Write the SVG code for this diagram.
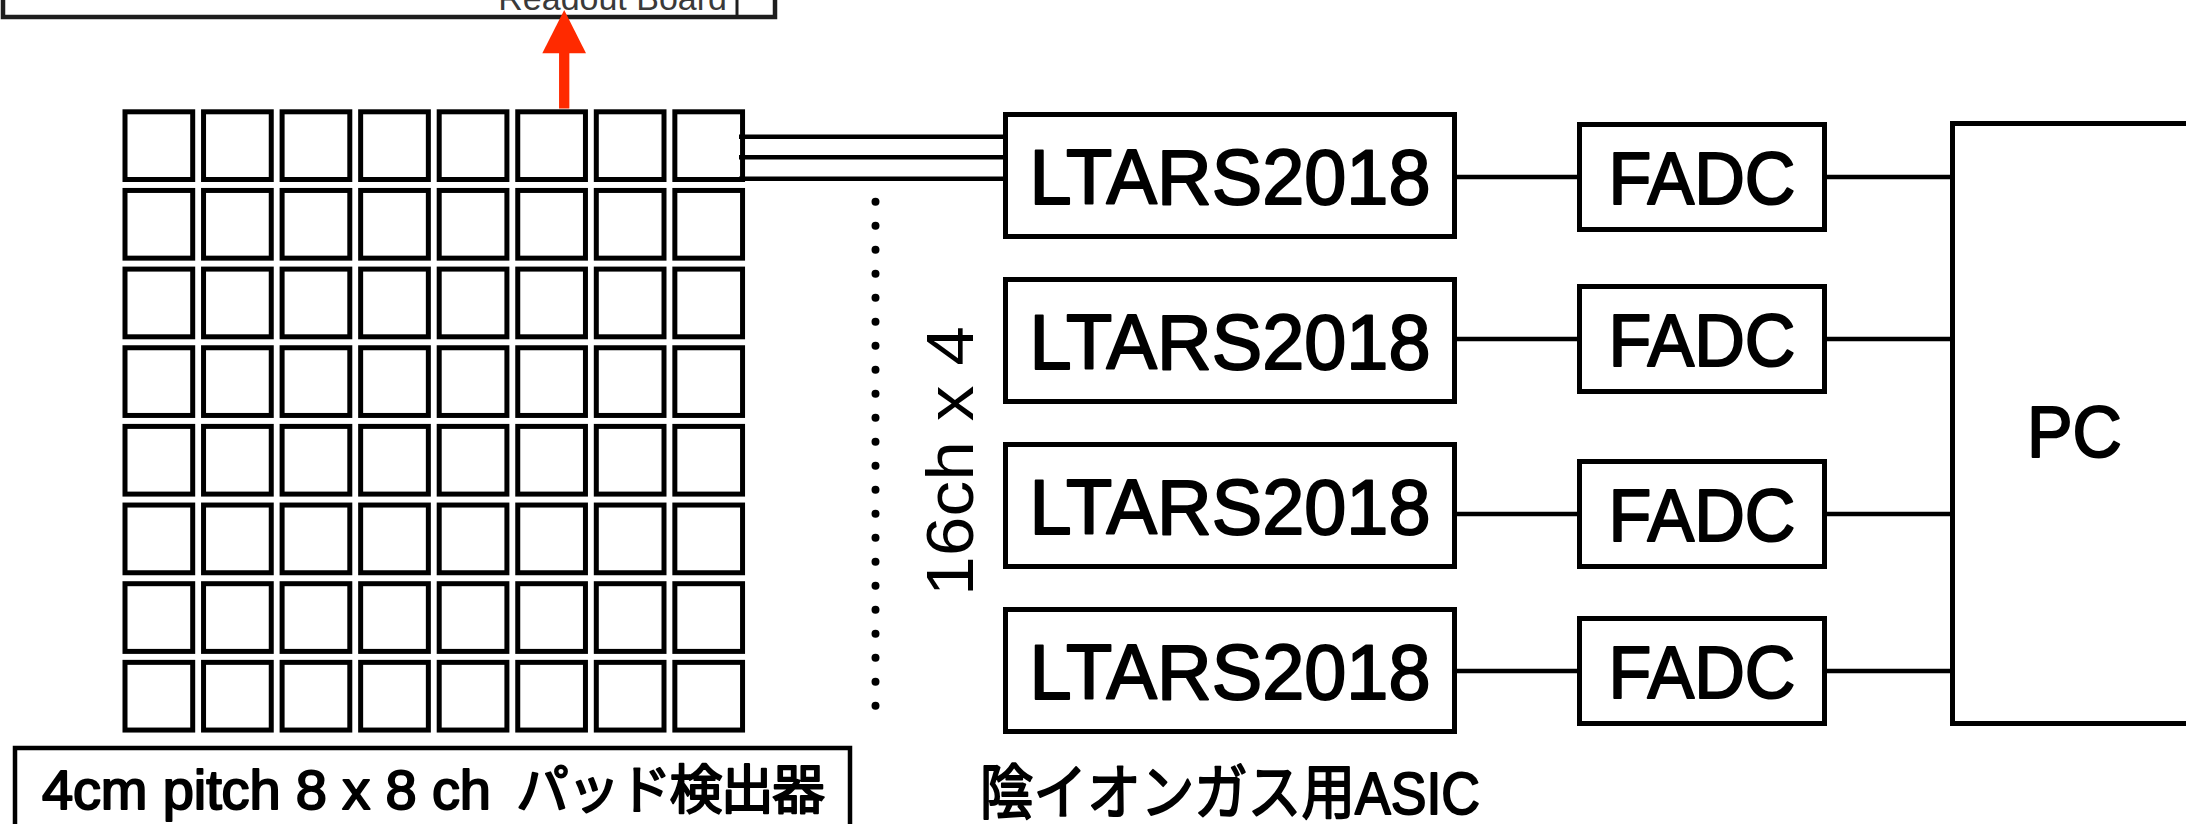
<svg xmlns="http://www.w3.org/2000/svg" xmlns:xlink="http://www.w3.org/1999/xlink" width="2186" height="824" viewBox="0 0 2186 824">
<style>
.box{fill:#fff;stroke:#000;stroke-width:5}
.cell{fill:#fff;stroke:#000;stroke-width:5}
.wire{stroke:#000;stroke-width:4.5;fill:none}
.lbl{font-family:"Liberation Sans","Noto Sans CJK JP",sans-serif;fill:#000;stroke:#000;stroke-width:2;stroke-linejoin:round}
.big{font-size:78px;text-anchor:middle}
.fadc{font-size:74px;text-anchor:middle}
.thin{font-family:"Liberation Sans",sans-serif;font-size:66px;fill:#000}
</style>
<defs>
<g id="padrow">
<rect class="cell" x="125" y="0" width="67.7" height="67.7"/>
<rect class="cell" x="203.55" y="0" width="67.7" height="67.7"/>
<rect class="cell" x="282.1" y="0" width="67.7" height="67.7"/>
<rect class="cell" x="360.65" y="0" width="67.7" height="67.7"/>
<rect class="cell" x="439.2" y="0" width="67.7" height="67.7"/>
<rect class="cell" x="517.75" y="0" width="67.7" height="67.7"/>
<rect class="cell" x="596.3" y="0" width="67.7" height="67.7"/>
<rect class="cell" x="674.85" y="0" width="67.7" height="67.7"/>
</g>
</defs>
<rect x="0" y="0" width="2186" height="824" fill="#fff"/>

<g id="readout-board">
<rect x="3" y="-40" width="772" height="57" fill="#fff" stroke="#1e1e1e" stroke-width="4.5"/>
<line x1="737" y1="-5" x2="737" y2="17" stroke="#1e1e1e" stroke-width="3"/>
<text x="727" y="10" font-family="Liberation Sans, sans-serif" font-size="34" fill="#3a3a3a" text-anchor="end">Readout Board</text>
</g>

<g id="pad-detector">
<use xlink:href="#padrow" transform="translate(0,111.8)"/>
<use xlink:href="#padrow" transform="translate(0,190.45)"/>
<use xlink:href="#padrow" transform="translate(0,269.1)"/>
<use xlink:href="#padrow" transform="translate(0,347.75)"/>
<use xlink:href="#padrow" transform="translate(0,426.4)"/>
<use xlink:href="#padrow" transform="translate(0,505.05)"/>
<use xlink:href="#padrow" transform="translate(0,583.7)"/>
<use xlink:href="#padrow" transform="translate(0,662.35)"/>
</g>

<g id="pad-label">
<rect x="15" y="748" width="835" height="120" fill="#fff" stroke="#000" stroke-width="4.5"/>
<text class="lbl" y="809" stroke-width="1.5"><tspan x="42" font-size="56" textLength="449" lengthAdjust="spacing">4cm pitch 8 x 8 ch</tspan><tspan x="516" font-size="53" textLength="309" lengthAdjust="spacing">パッド検出器</tspan></text>
</g>

<g id="connectors">
<polygon points="542.3,53.3 586,53.3 564.2,10" fill="#ff2a00"/>
<line x1="564.2" y1="52" x2="564.2" y2="108.5" stroke="#ff2a00" stroke-width="10.3"/>
<line class="wire" x1="739" y1="136.7" x2="1004" y2="136.7"/>
<line class="wire" x1="739" y1="157.3" x2="1004" y2="157.3"/>
<line class="wire" x1="739" y1="178.7" x2="1004" y2="178.7"/>
<line class="wire" x1="1456" y1="177" x2="1578" y2="177"/>
<line class="wire" x1="1456" y1="339" x2="1578" y2="339"/>
<line class="wire" x1="1456" y1="514" x2="1578" y2="514"/>
<line class="wire" x1="1456" y1="671" x2="1578" y2="671"/>
<line class="wire" x1="1826" y1="177" x2="1952" y2="177"/>
<line class="wire" x1="1826" y1="339" x2="1952" y2="339"/>
<line class="wire" x1="1826" y1="514" x2="1952" y2="514"/>
<line class="wire" x1="1826" y1="671" x2="1952" y2="671"/>
<line x1="875.5" y1="201.7" x2="875.5" y2="706" stroke="#000" stroke-width="8" stroke-linecap="round" stroke-dasharray="0 24"/>
</g>

<g id="channels-label">
<text class="thin" transform="translate(973,596) rotate(-90)" textLength="270" lengthAdjust="spacingAndGlyphs">16ch x 4</text>
</g>

<g id="ltars-1">
<rect class="box" x="1005.5" y="114.5" width="449" height="122"/>
<text class="lbl big" x="1230" y="204" textLength="401" lengthAdjust="spacingAndGlyphs">LTARS2018</text>
</g>
<g id="ltars-2">
<rect class="box" x="1005.5" y="279.5" width="449" height="122"/>
<text class="lbl big" x="1230" y="369" textLength="401" lengthAdjust="spacingAndGlyphs">LTARS2018</text>
</g>
<g id="ltars-3">
<rect class="box" x="1005.5" y="444.5" width="449" height="122"/>
<text class="lbl big" x="1230" y="534" textLength="401" lengthAdjust="spacingAndGlyphs">LTARS2018</text>
</g>
<g id="ltars-4">
<rect class="box" x="1005.5" y="609.5" width="449" height="122"/>
<text class="lbl big" x="1230" y="699" textLength="401" lengthAdjust="spacingAndGlyphs">LTARS2018</text>
</g>

<g id="asic-label">
<text class="lbl" x="980" y="814" font-size="60" stroke-width="1.5" textLength="500" lengthAdjust="spacingAndGlyphs">陰イオンガス用ASIC</text>
</g>

<g id="fadc-1">
<rect class="box" x="1579.5" y="124.5" width="245" height="105"/>
<text class="lbl fadc" x="1702" y="203.5" textLength="187" lengthAdjust="spacingAndGlyphs">FADC</text>
</g>
<g id="fadc-2">
<rect class="box" x="1579.5" y="286.5" width="245" height="105"/>
<text class="lbl fadc" x="1702" y="365.5" textLength="187" lengthAdjust="spacingAndGlyphs">FADC</text>
</g>
<g id="fadc-3">
<rect class="box" x="1579.5" y="461.5" width="245" height="105"/>
<text class="lbl fadc" x="1702" y="540.5" textLength="187" lengthAdjust="spacingAndGlyphs">FADC</text>
</g>
<g id="fadc-4">
<rect class="box" x="1579.5" y="618.5" width="245" height="105"/>
<text class="lbl fadc" x="1702" y="697.5" textLength="187" lengthAdjust="spacingAndGlyphs">FADC</text>
</g>

<g id="pc">
<rect class="box" x="1952.5" y="123.5" width="300" height="600"/>
<text class="lbl" x="2027" y="457" font-size="73" textLength="95" lengthAdjust="spacingAndGlyphs">PC</text>
</g>
</svg>
